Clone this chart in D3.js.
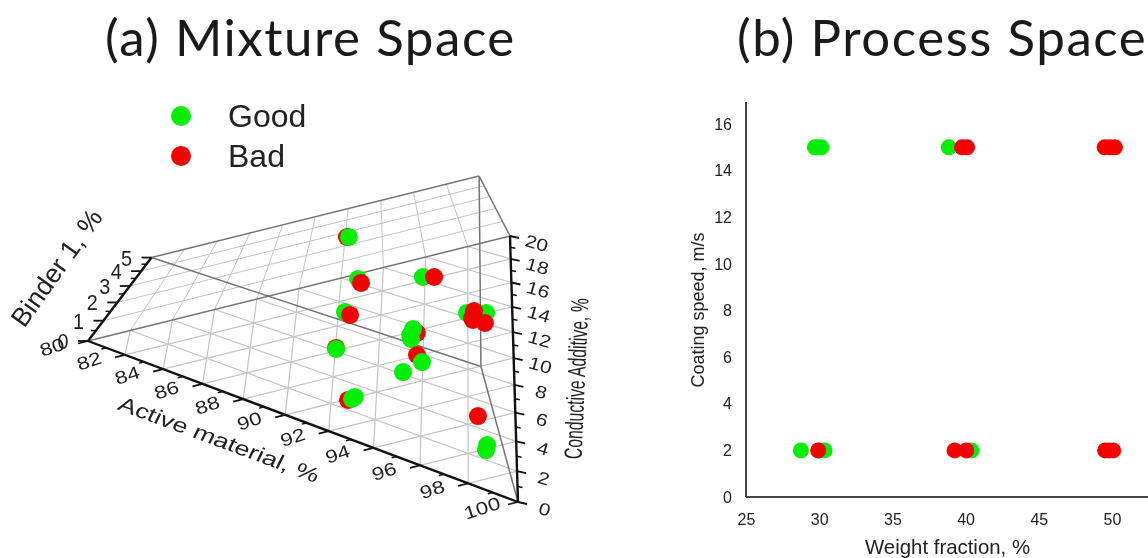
<!DOCTYPE html>
<html>
<head>
<meta charset="utf-8">
<style>
body { margin: 0; background: #fff; }
svg { display: block; filter: blur(0.45px); }
text { font-family: "Liberation Sans", Arial, sans-serif; fill: #222; }
.title { font-family: Lato, "Open Sans", sans-serif; font-size: 51px; letter-spacing: 1.55px; fill: #1a1a1a; }
</style>
</head>
<body>
<div id="chart"></div>
<script src="https://d3js.org/d3.v7.min.js"></script>
<script>
var width = 1148;
var height = 558;

// (a) mixture space, in draw order
var mixActive = [80.53, 80.58, 82.01, 82.44, 83.29, 83.54, 84.68, 85.05, 87.38, 87.78, 87.36, 87.91, 88.09, 88.59, 88.00, 87.60, 88.04, 88.39, 87.58, 87.67, 89.83, 90.50, 90.92, 92.05, 92.05, 91.95, 95.74, 98.01, 98.35];
var mixConductive = [11.56, 11.62, 10.83, 10.56, 12.77, 13.07, 7.63, 7.52, 10.84, 11.34, 11.19, 10.55, 10.41, 10.47, 7.85, 8.06, 7.49, 7.19, 4.43, 4.35, 6.06, 5.63, 4.34, 0.72, 0.90, 1.13, 2.96, 1.08, 0.69];
var mixBinder = [3, 3, 1, 1, 1, 1, 1, 1, 1, 1, 1, 1, 1, 1, 1, 1, 1, 1, 1, 1, 1, 1, 1, 1, 1, 1, 1, 1, 1];
var mixClass = ["Bad", "Good", "Good", "Bad", "Good", "Bad", "Good", "Bad", "Good", "Good", "Bad", "Bad", "Bad", "Bad", "Bad", "Good", "Good", "Good", "Bad", "Good", "Bad", "Good", "Good", "Bad", "Good", "Good", "Bad", "Good", "Good"];

// (b) process space
var goodWeight = [29.7, 29.9, 30.15, 38.85, 28.75, 30.0, 30.37, 40.4];
var goodSpeed = [15, 15, 15, 15, 2, 2, 2, 2];
var badWeight = [39.75, 40.1, 49.5, 49.85, 50.2, 29.93, 39.25, 40.05, 49.53, 49.8, 50.08];
var badSpeed = [15, 15, 15, 15, 15, 2, 2, 2, 2, 2, 2];

var classes = ["Good", "Bad"];
var classColors = ["#05ee05", "#f40000"];

var activeTicks = [80, 82, 84, 86, 88, 90, 92, 94, 96, 98, 100];
var activeMinor = [81, 83, 85, 87, 89, 91, 93, 95, 97, 99];
var conductiveTicks = [0, 2, 4, 6, 8, 10, 12, 14, 16, 18, 20];
var conductiveMinor = [1, 3, 5, 7, 9, 11, 13, 15, 17, 19];
var binderTicks = [0, 1, 2, 3, 4, 5];
var binderMinor = [0.5, 1.5, 2.5, 3.5, 4.5];
var weightTicks = [25, 30, 35, 40, 45, 50];
var speedTicks = [0, 2, 4, 6, 8, 10, 12, 14, 16];

var svg = d3.select("#chart").append("svg")
    .attr("width", width)
    .attr("height", height);

var color = d3.scaleOrdinal().domain(classes).range(classColors);

svg.append("text").attr("class", "title").attr("x", 105).attr("y", 56).text("(a) Mixture Space");
svg.append("text").attr("class", "title").attr("x", 737).attr("y", 56).text("(b) Process Space");

// legend
classes.forEach(function(c, i) {
    svg.append("circle").attr("cx", 181).attr("cy", 116 + i * 40).attr("r", 10).attr("fill", color(c));
    svg.append("text").attr("x", 228).attr("y", 127 + i * 40)
        .attr("font-size", 32).text(c);
});

// ---- (a) the prism is a homography of the three mixture coordinates
var uScale = d3.scaleLinear().domain([80, 100]).range([0, 1]);
var vScale = d3.scaleLinear().domain([0, 20]).range([0, 1]);
var hScale = d3.scaleLinear().domain([0, 5]).range([0, 0.34]);

var cornerA = [88, 341], cornerB = [518, 502], cornerC = [510, 236], vanish = [372, -32];
var wA = 1.18, wB = 1, wC = 1.18;

function project(a, c, b) {
    var u = uScale(a), v = vScale(c), h = hScale(b);
    var la = (1 - u - v) * wA, lb = u * wB, lc = v * wC;
    var w = la + lb + lc + h;
    return [
        (la * cornerA[0] + lb * cornerB[0] + lc * cornerC[0] + h * vanish[0]) / w,
        (la * cornerA[1] + lb * cornerB[1] + lc * cornerC[1] + h * vanish[1]) / w
    ];
}

function seg(g, p, q, stroke, sw) {
    g.append("line")
        .attr("x1", p[0]).attr("y1", p[1])
        .attr("x2", q[0]).attr("y2", q[1])
        .attr("stroke", stroke).attr("stroke-width", sw);
}

var grid = svg.append("g");
var lightGrid = "#c4c4c4";

// floor
activeTicks.slice(1, -1).forEach(function(a) {
    seg(grid, project(a, 0, 0), project(a, 100 - a, 0), lightGrid, 1.2);
});
conductiveTicks.slice(1, -1).forEach(function(c) {
    seg(grid, project(80, c, 0), project(100 - c, c, 0), lightGrid, 1.2);
});
conductiveTicks.slice(1, -1).forEach(function(c) {
    // third component constant
    seg(grid, project(80 + c, 0, 0), project(80, c, 0), lightGrid, 1.2);
});
// back wall
binderTicks.slice(1, -1).forEach(function(b) {
    seg(grid, project(80, 0, b), project(80, 20, b), lightGrid, 1);
});
conductiveTicks.slice(1, -1).forEach(function(c) {
    seg(grid, project(80, c, 0), project(80, c, 5), lightGrid, 1);
});

// frame
var frameColor = "#757575";
seg(grid, project(80, 0, 0), project(80, 20, 0), frameColor, 1.5);
seg(grid, project(80, 0, 5), project(80, 20, 5), frameColor, 1.5);
seg(grid, project(80, 0, 5), project(100, 0, 5), frameColor, 1.5);
seg(grid, project(80, 20, 5), project(100, 0, 5), frameColor, 1.5);
seg(grid, project(80, 20, 0), project(80, 20, 5), frameColor, 1.5);
seg(grid, project(100, 0, 0), project(100, 0, 5), frameColor, 1.5);

// axes
var axisColor = "#111";
seg(grid, project(80, 0, 0), project(100, 0, 0), axisColor, 2.4);
seg(grid, project(100, 0, 0), project(80, 20, 0), axisColor, 2.4);
seg(grid, project(80, 0, 0), project(80, 0, 5), axisColor, 2.4);

var axes = svg.append("g");

activeTicks.forEach(function(a) {
    var p = project(a, 0, 0);
    seg(axes, p, [p[0] - 10, p[1] + 2.5], axisColor, 1.8);
    axes.append("text")
        .attr("text-anchor", "middle")
        .attr("font-size", 19)
        .attr("transform", "translate(" + (p[0] - 34) + "," + (p[1] + 12) + ") matrix(1.12,-0.36,0.3,0.9,0,0)")
        .text(a);
});
activeMinor.forEach(function(a) {
    var p = project(a, 0, 0);
    seg(axes, p, [p[0] - 5, p[1] + 1.2], axisColor, 1.5);
});
conductiveTicks.forEach(function(c) {
    var p = project(100 - c, c, 0);
    seg(axes, p, [p[0] + 9, p[1] + 2], axisColor, 1.8);
    axes.append("text")
        .attr("text-anchor", "middle")
        .attr("font-size", 19)
        .attr("transform", "translate(" + (p[0] + 25) + "," + (p[1] + 13) + ") matrix(1.05,0.3,-0.25,0.88,0,0)")
        .text(c);
});
conductiveMinor.forEach(function(c) {
    var p = project(100 - c, c, 0);
    seg(axes, p, [p[0] + 5, p[1] + 1], axisColor, 1.5);
});
binderTicks.forEach(function(b) {
    var p = project(80, 0, b);
    seg(axes, p, [p[0] - 10, p[1]], axisColor, 1.8);
    axes.append("text")
        .attr("text-anchor", "middle")
        .attr("font-size", 22)
        .attr("transform", "translate(" + (p[0] - 25) + "," + (p[1] + 8) + ") scale(0.9,1)")
        .text(b);
});
binderMinor.forEach(function(b) {
    var p = project(80, 0, b);
    seg(axes, p, [p[0] - 5, p[1]], axisColor, 1.5);
});

axes.append("text").attr("text-anchor", "middle").attr("font-size", 26.5)
    .attr("transform", "translate(64,273) rotate(-54.5)")
    .text("Binder 1, %");
axes.append("text").attr("text-anchor", "middle").attr("font-size", 22)
    .attr("transform", "translate(216,446) matrix(1.13,0.42,-0.42,0.85,0,0)")
    .text("Active material, %");
axes.append("text").attr("text-anchor", "middle").attr("font-size", 25)
    .attr("transform", "translate(585,379) rotate(-87.5) scale(0.63,1)")
    .text("Conductive Additive, %");

var mixIndex = d3.range(mixActive.length);
svg.append("g").selectAll("circle")
    .data(mixIndex)
    .join("circle")
    .attr("cx", function(i) { return project(mixActive[i], mixConductive[i], mixBinder[i])[0]; })
    .attr("cy", function(i) { return project(mixActive[i], mixConductive[i], mixBinder[i])[1]; })
    .attr("r", 9)
    .attr("fill", function(i) { return color(mixClass[i]); });

// ---- (b) process space
var x = d3.scaleLinear().domain([25, 50]).range([746, 1112]);
var y = d3.scaleLinear().domain([0, 16]).range([497, 124]);

var xAxis = d3.axisBottom(x).tickValues(weightTicks).tickSize(0).tickPadding(17);
var yAxis = d3.axisLeft(y).tickValues(speedTicks).tickSize(0).tickPadding(14);

var gx = svg.append("g").attr("transform", "translate(0,497)").call(xAxis);
var gy = svg.append("g").attr("transform", "translate(746,0)").call(yAxis);
[gx, gy].forEach(function(g) {
    g.selectAll("text").attr("font-size", 16).attr("font-family", null);
    g.select(".domain").remove();
});
svg.append("line").attr("x1", 746).attr("x2", 1148).attr("y1", 497).attr("y2", 497)
    .attr("stroke", "#444").attr("stroke-width", 2);
svg.append("line").attr("x1", 746).attr("x2", 746).attr("y1", 102).attr("y2", 497)
    .attr("stroke", "#444").attr("stroke-width", 2);

svg.append("text").attr("text-anchor", "middle").attr("x", 947.5).attr("y", 554)
    .attr("font-size", 20.4).text("Weight fraction, %");
svg.append("text").attr("text-anchor", "middle").attr("font-size", 18)
    .attr("transform", "translate(704,310) rotate(-90)")
    .text("Coating speed, m/s");

var proc = svg.append("g");
proc.selectAll("circle.good")
    .data(goodWeight)
    .join("circle")
    .attr("class", "good")
    .attr("cx", function(d) { return x(d); })
    .attr("cy", function(d, i) { return y(goodSpeed[i]); })
    .attr("r", 8)
    .attr("fill", color("Good"));
proc.selectAll("circle.bad")
    .data(badWeight)
    .join("circle")
    .attr("class", "bad")
    .attr("cx", function(d) { return x(d); })
    .attr("cy", function(d, i) { return y(badSpeed[i]); })
    .attr("r", 8)
    .attr("fill", color("Bad"));
</script>
</body>
</html>
